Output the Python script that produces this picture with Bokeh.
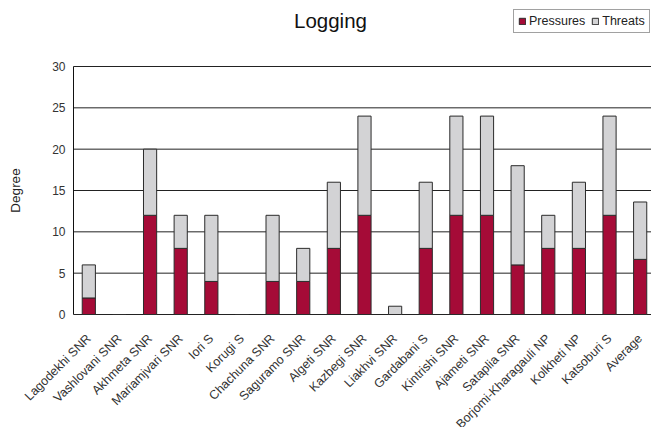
import math
from bokeh.plotting import figure
from bokeh.models import ColumnDataSource, Range1d, Legend, Label
from bokeh.core.properties import value
from bokeh.embed import file_html
from bokeh.resources import INLINE

# Protected areas and the logging pressure / threat degrees for each
areas = [
    "Lagodekhi SNR", "Vashlovani SNR", "Akhmeta SNR", "Mariamjvari SNR",
    "Iori S", "Korugi S", "Chachuna SNR", "Saguramo SNR", "Algeti SNR",
    "Kazbegi SNR", "Liakhvi SNR", "Gardabani S", "Kintrishi SNR",
    "Ajameti SNR", "Sataplia SNR", "Borjomi-Kharagauli NP", "Kolkheti NP",
    "Katsoburi S", "Average",
]
pressures = [2, 0, 12, 8, 4, 0, 4, 4, 8, 12, 0, 8, 12, 12, 6, 8, 8, 12, 6.67]
threats = [4, 0, 8, 4, 8, 0, 8, 4, 8, 12, 1, 8, 12, 12, 12, 4, 8, 12, 6.94]
y_ticks = [0, 5, 10, 15, 20, 25, 30]
y_tick_labels = ["0", "5", "10", "15", "20", "25", "30"]

FONT = "Liberation Sans"
RED = "#A50B37"
GREY = "#D3D3D5"
EDGE = "#2b2b2b"

# Layout in pixels. The frame fills the whole canvas, so the title, legend,
# value axis and rotated area names are all drawn inside it.
W, H = 651, 427
AXIS_LEFT = 73          # where the value axis sits
BASE_FROM_BOTTOM = 113  # baseline (0) above the canvas bottom
SCALE_PX = 248          # height of the 0-30 scale
AXIS_X = -0.5           # value axis position in category units
X_END = 18.37

x_px_per_unit = (W - AXIS_LEFT) / (X_END - AXIS_X)
x_start = AXIS_X - AXIS_LEFT / x_px_per_unit
y_px_per_unit = SCALE_PX / y_ticks[-1]
y_start = -BASE_FROM_BOTTOM / y_px_per_unit
y_end = (H - BASE_FROM_BOTTOM) / y_px_per_unit

positions = list(range(len(areas)))
source = ColumnDataSource(dict(
    x=positions, Pressures=pressures, Threats=threats,
    base=[0] * len(areas), name=areas,
))
tick_source = ColumnDataSource(dict(
    x0=[AXIS_X] * len(y_ticks), x1=[X_END] * len(y_ticks),
    y=y_ticks, label=y_tick_labels,
))

p = figure(
    width=W, height=H,
    output_backend="svg", toolbar_location=None, tools="",
    x_range=Range1d(x_start, X_END), y_range=Range1d(y_start, y_end),
    x_axis_location=None, y_axis_location=None,
    min_border=0,
)
p.background_fill_color = "white"
p.border_fill_color = "white"
p.outline_line_color = None
p.grid.grid_line_color = None

# Horizontal grid lines from the value axis to the right edge, 0 to 30
p.segment(
    x0="x0", y0="y", x1="x1", y1="y", source=tick_source,
    line_color="#222222", line_width=1,
)
# The value axis line
p.segment(
    x0=[AXIS_X], y0=[y_ticks[0]], x1=[AXIS_X], y1=[y_ticks[-1]],
    line_color="#111111", line_width=1,
)

renderers = p.vbar_stack(
    ["Pressures", "Threats"], x="x", width=0.43, source=source,
    fill_color=[RED, GREY], line_color=EDGE, line_width=1,
)

# Value axis tick labels
p.text(
    x="x0", y="y", text="label", source=tick_source,
    x_offset=-8, text_align="right", text_baseline="middle",
    text_font=value(FONT), text_font_size=value("12px"), text_color="#333333",
)

# Area names, rotated, hanging below the baseline
p.text(
    x="x", y="base", text="name", source=source,
    angle=math.pi / 4, text_align="right", text_baseline="middle",
    y_offset=22, text_font=value(FONT), text_font_size=value("12.5px"),
    text_color="#333333",
)

# Axis title and chart title (screen offsets from the canvas' bottom-left)
p.add_layout(Label(
    x=15, y=H - 190, x_units="screen", y_units="screen", angle=math.pi / 2,
    text="Degree", text_align="center", text_baseline="middle",
    text_font=FONT, text_font_size="13.5px", text_color="#222222",
))
p.add_layout(Label(
    x=330, y=H - 20, x_units="screen", y_units="screen",
    text="Logging", text_align="center", text_baseline="middle",
    text_font=FONT, text_font_size="20.5px", text_color="#111111",
))

legend = Legend(
    items=[("Pressures", [renderers[0]]), ("Threats", [renderers[1]])],
    location=(513, H - 33), orientation="horizontal",
    glyph_width=8, glyph_height=8, label_width=10, label_height=13,
    spacing=6, padding=4, margin=0, label_standoff=3,
    label_text_font=FONT, label_text_font_size="12.5px",
    label_text_color="#222222",
    border_line_color="#444444", border_line_width=1,
    background_fill_color="white", background_fill_alpha=1,
)
p.add_layout(legend, "center")

open("out.html", "w").write(file_html(p, INLINE))
